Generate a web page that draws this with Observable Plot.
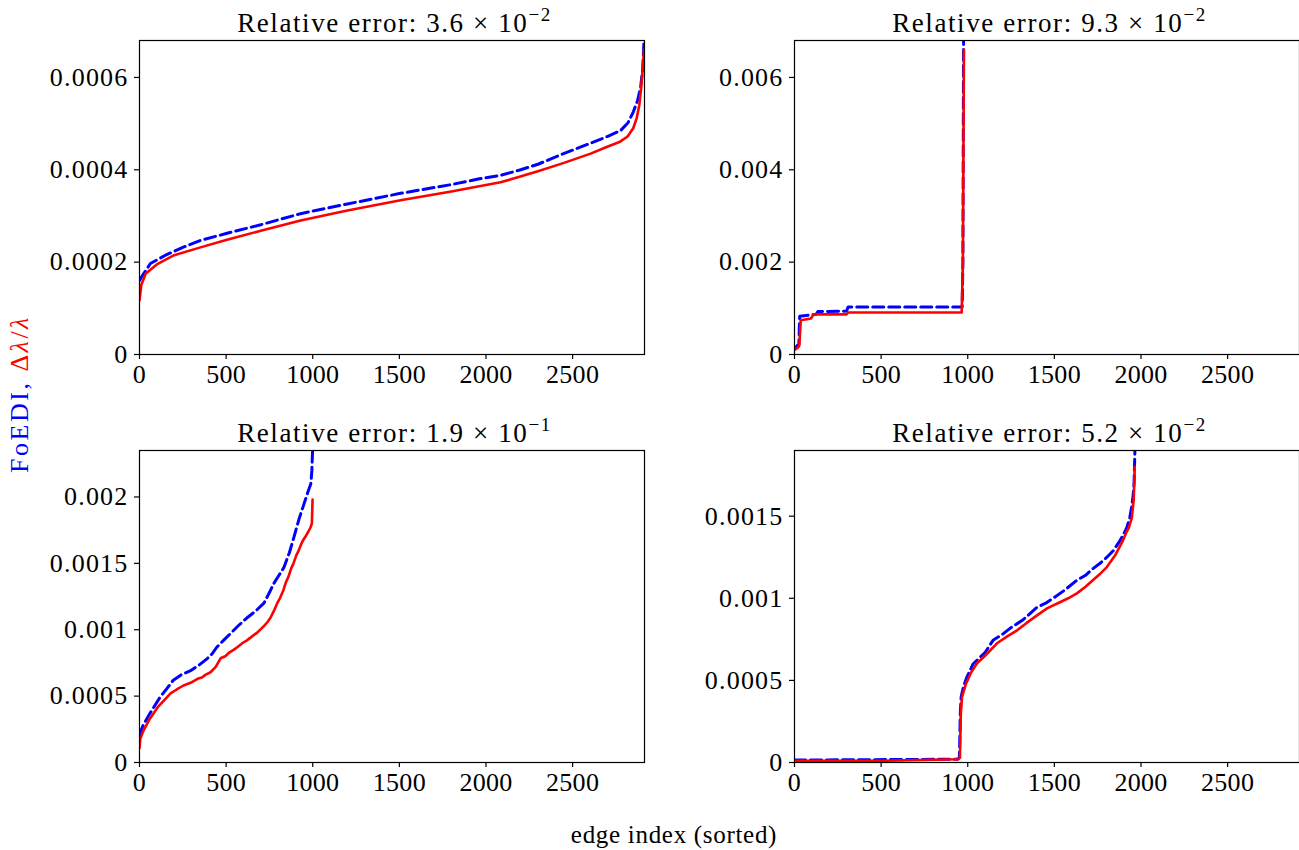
<!DOCTYPE html>
<html>
<head>
<meta charset="utf-8">
<script src="https://cdn.jsdelivr.net/npm/d3@7"></script>
<script src="https://cdn.jsdelivr.net/npm/@observablehq/plot@0.6"></script>
<style>
  html, body { margin: 0; padding: 0; background: #fff; overflow: hidden; }
  #wrap { position: relative; width: 1299px; height: 850px; font-family: 'Liberation Serif', 'DejaVu Serif', serif; }
  #wrap svg { position: absolute; }
  #wrap text { font-family: 'Liberation Serif', 'DejaVu Serif', serif !important; }
  #wrap g[aria-label="y-axis tick label"] text { letter-spacing: 1.2px; }
  #wrap g[aria-label="x-axis tick label"] text { letter-spacing: 0.3px; }
</style>
</head>
<body>
<div id="wrap"></div>
<script>
// ---------- data ----------
const xTicks = [0, 500, 1000, 1500, 2000, 2500];
const xMax = 2915;

// Panel 1 (top-left)
const p1Foedi = [[0,0.00016],[15,0.00017],[63,0.000197],[150,0.000215],[250,0.000232],[352,0.000247],[500,0.000262],[700,0.000281],[930,0.000305],[1200,0.000326],[1507,0.000349],[1800,0.000368],[1969,0.000381],[2084,0.000388],[2200,0.0004],[2300,0.000412],[2448,0.000435],[2600,0.000457],[2700,0.000472],[2777,0.000485],[2820,0.000502],[2850,0.000525],[2875,0.00055],[2893,0.00058],[2905,0.00062],[2912,0.00068]];
const p1Rel = [[0,0.000117],[10,0.00015],[35,0.000175],[100,0.000195],[200,0.000215],[352,0.000232],[500,0.000248],[700,0.000268],[930,0.00029],[1200,0.000312],[1507,0.000334],[1800,0.000353],[2084,0.000373],[2159,0.000381],[2300,0.000397],[2450,0.000415],[2604,0.000435],[2700,0.00045],[2770,0.00046],[2817,0.000472],[2850,0.00049],[2870,0.000512],[2885,0.00054],[2895,0.000575],[2905,0.00062],[2912,0.00066]];
const p1YTicks = [0, 0.0002, 0.0004, 0.0006];
const p1YMax = 0.00068;

// Panel 2 (top-right)
const p2Foedi = [[0,0.00012],[18,0.0002],[25,0.00022],[30,0.00083],[95,0.00086],[125,0.00087],[135,0.00093],[300,0.00094],[310,0.00103],[968,0.00103],[972,0.002],[976,0.0068]];
const p2Rel = [[0,0.0001],[20,0.00015],[28,0.0002],[36,0.00074],[95,0.00078],[110,0.00087],[300,0.00087],[310,0.00091],[965,0.00091],[972,0.002],[978,0.0066]];
const p2YTicks = [0, 0.002, 0.004, 0.006];
const p2YMax = 0.0068;

// Panel 3 (bottom-left)
const p3Foedi = [[0,0.0002],[2,0.00022],[21,0.00028],[60,0.00037],[118,0.00049],[160,0.00056],[195,0.00062],[240,0.00066],[292,0.00069],[340,0.00073],[389,0.00078],[420,0.00082],[447,0.00087],[485,0.00092],[524,0.00097],[570,0.00103],[621,0.00109],[670,0.00114],[718,0.0012],[750,0.00128],[776,0.00135],[805,0.00141],[834,0.00147],[865,0.00158],[892,0.0017],[920,0.00183],[950,0.00195],[970,0.00203],[989,0.0021],[995,0.0022],[999,0.00235]];
const p3Rel = [[0,0.00011],[5,0.00018],[23,0.00024],[60,0.00033],[104,0.000415],[150,0.00048],[179,0.00052],[215,0.00055],[254,0.00058],[295,0.0006],[335,0.00063],[360,0.00064],[380,0.00066],[410,0.00068],[440,0.00072],[468,0.000785],[495,0.0008],[520,0.00083],[545,0.00085],[566,0.00087],[595,0.0009],[620,0.00092],[650,0.00095],[681,0.00098],[720,0.00103],[740,0.00106],[756,0.00109],[775,0.00114],[795,0.0012],[812,0.00124],[831,0.0013],[846,0.00136],[860,0.0014],[875,0.00146],[889,0.0015],[905,0.00156],[920,0.0016],[935,0.00165],[947,0.00168],[962,0.00171],[975,0.00174],[987,0.00177],[995,0.0018],[999,0.00198]];
const p3YTicks = [0, 0.0005, 0.001, 0.0015, 0.002];
const p3YMax = 0.00235;

// Panel 4 (bottom-right)
const p4Foedi = [[0,0.000015],[940,0.00002],[952,0.00003],[957,0.0003],[962,0.0004],[975,0.00046],[995,0.00052],[1031,0.0006],[1100,0.00067],[1146,0.000744],[1200,0.00078],[1244,0.000817],[1320,0.00087],[1400,0.000945],[1450,0.00097],[1492,0.001],[1560,0.00105],[1630,0.00111],[1680,0.00114],[1722,0.00118],[1760,0.00121],[1803,0.00125],[1840,0.00129],[1878,0.00135],[1900,0.00139],[1918,0.00143],[1935,0.00149],[1947,0.00156],[1955,0.00163],[1960,0.0017],[1965,0.0019]];
const p4Rel = [[0,0.00001],[500,0.00001],[945,0.00002],[955,0.00003],[960,0.0003],[967,0.0004],[990,0.00048],[1020,0.00055],[1054,0.000604],[1100,0.00065],[1169,0.000726],[1230,0.00077],[1285,0.000805],[1340,0.00085],[1400,0.000896],[1460,0.00094],[1532,0.000976],[1580,0.001],[1630,0.00103],[1680,0.00107],[1722,0.00111],[1765,0.00115],[1803,0.00119],[1850,0.00126],[1895,0.00135],[1915,0.0014],[1930,0.00143],[1947,0.00149],[1958,0.0016],[1964,0.0018]];
const p4YTicks = [0, 0.0005, 0.001, 0.0015];
const p4YMax = 0.0019;

const titleMantissa = ["3.6", "9.3", "1.9", "5.2"];
const titleExponent = ["\u22122", "\u22122", "\u22121", "\u22122"];

// ---------- layout ----------
const FONT = "'Liberation Serif', 'DejaVu Serif', serif";
const panelW = 505;
const panels = [
  {left: 139, top: 40, h: 314, foedi: p1Foedi, rel: p1Rel, yTicks: p1YTicks, yMax: p1YMax},
  {left: 794, top: 40, h: 314, foedi: p2Foedi, rel: p2Rel, yTicks: p2YTicks, yMax: p2YMax},
  {left: 139, top: 450, h: 312, foedi: p3Foedi, rel: p3Rel, yTicks: p3YTicks, yMax: p3YMax},
  {left: 794, top: 450, h: 312, foedi: p4Foedi, rel: p4Rel, yTicks: p4YTicks, yMax: p4YMax}
];

const wrap = document.getElementById("wrap");
const mL = 139, mT = 10, mB = 50, mR = 3;

panels.forEach((p, i) => {
  const chart = Plot.plot({
    width: mL + panelW + mR,
    height: mT + p.h + mB,
    marginLeft: mL, marginRight: mR, marginTop: mT, marginBottom: mB,
    style: {fontFamily: FONT, fontSize: "26px", background: "transparent", color: "black", overflow: "visible"},
    x: {domain: [0, xMax], label: null},
    y: {domain: [0, p.yMax], label: null},
    marks: [
      Plot.line(p.foedi, {stroke: "#0000ff", strokeWidth: 3, strokeDasharray: "11,5", clip: true}),
      Plot.line(p.rel, {stroke: "#ff0000", strokeWidth: 2.6, clip: true}),
      Plot.frame({stroke: "black", strokeWidth: 1.2}),
      Plot.axisX({ticks: xTicks, tickSize: 5, tickPadding: 5, tickFormat: d => String(d), fontSize: 26, strokeWidth: 1.2}),
      Plot.axisY({ticks: p.yTicks, tickSize: 5, tickPadding: 6, tickFormat: d => String(d), fontSize: 26, strokeWidth: 1.2})
    ]
  });
  chart.style.left = (p.left - mL) + "px";
  chart.style.top = (p.top - mT) + "px";
  wrap.appendChild(chart);
});

// ---------- overlay texts ----------
const ov = d3.select(wrap).append("svg")
  .attr("width", 1299).attr("height", 850)
  .style("left", "0px").style("top", "0px").style("pointer-events", "none");

panels.forEach((p, i) => {
  const t = ov.append("text")
    .attr("x", p.left + panelW / 2 + 3)
    .attr("y", p.top - 8)
    .attr("text-anchor", "middle")
    .attr("font-size", 27)
    .style("letter-spacing", "1.6px")
    .attr("fill", "black");
  t.append("tspan").text("Relative error:  " + titleMantissa[i] + " \u00d7 10");
  t.append("tspan").attr("font-size", 19).attr("dy", -11).text(titleExponent[i]);
});

const yl = ov.append("text")
  .attr("transform", "translate(28,394) rotate(-90)")
  .attr("text-anchor", "middle")
  .attr("font-size", 26)
  .style("letter-spacing", "2.5px");
yl.append("tspan").attr("fill", "#0000ff").text("FoEDI, ");
yl.append("tspan").attr("fill", "#ff0000").text("\u0394");
yl.append("tspan").attr("fill", "#ff0000").attr("font-style", "italic").text("\u03bb");
yl.append("tspan").attr("fill", "#ff0000").text("/");
yl.append("tspan").attr("fill", "#ff0000").attr("font-style", "italic").text("\u03bb");

ov.append("text")
  .attr("x", 674).attr("y", 843)
  .attr("text-anchor", "middle")
  .attr("font-size", 25)
  .style("letter-spacing", "0.7px")
  .attr("fill", "black")
  .text("edge index (sorted)");
</script>
</body>
</html>
